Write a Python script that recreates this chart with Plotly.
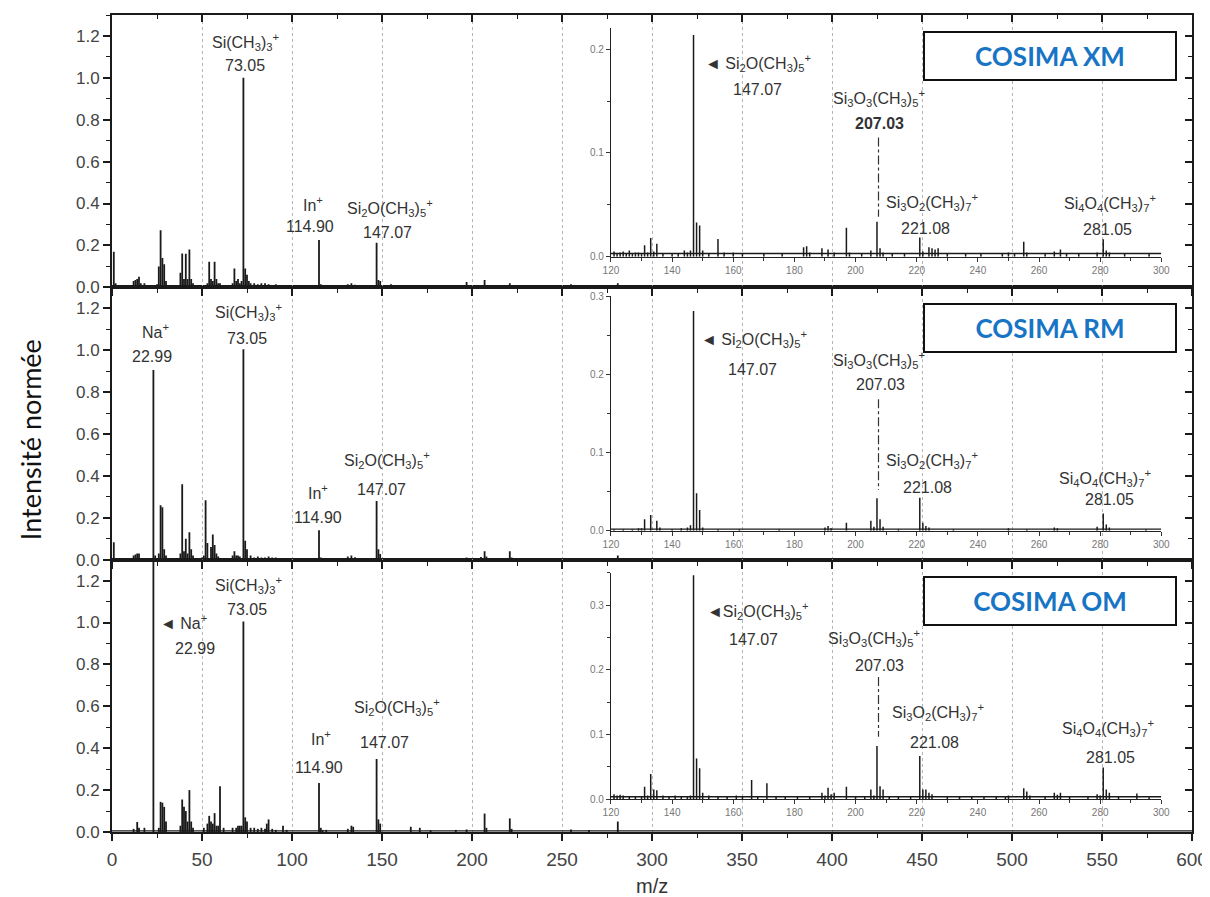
import plotly.graph_objects as go

# ------------------------------------------------------------------ data
# main spectra (m/z, normalised intensity)
mz_xm = [1, 2, 12, 13, 14, 15, 16, 18, 24, 25,
         26, 27, 28, 29, 30, 31, 38, 39, 40, 41,
         42, 43, 44, 45, 53, 54, 55, 56, 57, 58,
         59, 60, 61, 67, 68, 69, 70, 71, 72, 73,
         74, 75, 76, 77, 79, 81, 83, 85, 87, 89,
         91, 96, 99, 103, 115, 116, 117, 119, 131, 133,
         135, 147, 148, 149, 155, 163, 183, 191, 197, 207,
         208, 221, 225, 249, 255, 267, 281]
int_xm = [0.17, 0.02, 0.03, 0.035, 0.04, 0.05, 0.02, 0.02, 0.01, 0.015,
          0.10, 0.273, 0.14, 0.11, 0.03, 0.01, 0.07, 0.162, 0.04, 0.16,
          0.04, 0.181, 0.04, 0.02, 0.02, 0.122, 0.04, 0.03, 0.122, 0.04,
          0.02, 0.02, 0.01, 0.02, 0.09, 0.03, 0.04, 0.02, 0.03, 1.0,
          0.09, 0.06, 0.03, 0.02, 0.02, 0.015, 0.02, 0.02, 0.015, 0.01,
          0.015, 0.01, 0.01, 0.008, 0.226, 0.015, 0.01, 0.008, 0.015, 0.02,
          0.012, 0.213, 0.035, 0.03, 0.015, 0.008, 0.01, 0.008, 0.025, 0.035,
          0.01, 0.02, 0.01, 0.008, 0.015, 0.008, 0.02]

mz_rm = [1, 12, 13, 14, 15, 23, 24, 26, 27, 28,
         29, 30, 38, 39, 40, 41, 42, 43, 44, 45,
         50, 51, 52, 53, 55, 56, 57, 58, 59, 67,
         68, 69, 70, 71, 73, 74, 75, 77, 79, 81,
         83, 85, 87, 89, 91, 97, 115, 116, 117, 119,
         129, 131, 133, 135, 147, 148, 149, 191, 197, 205,
         207, 208, 221, 222, 281]
int_rm = [0.083, 0.02, 0.025, 0.03, 0.03, 0.905, 0.02, 0.03, 0.26, 0.25,
          0.05, 0.02, 0.03, 0.36, 0.04, 0.10, 0.03, 0.131, 0.05, 0.02,
          0.01, 0.02, 0.284, 0.08, 0.06, 0.12, 0.07, 0.03, 0.015, 0.02,
          0.04, 0.02, 0.02, 0.015, 1.005, 0.09, 0.05, 0.02, 0.01, 0.015,
          0.01, 0.01, 0.015, 0.01, 0.01, 0.008, 0.14, 0.01, 0.008, 0.006,
          0.006, 0.015, 0.02, 0.012, 0.28, 0.05, 0.027, 0.008, 0.01, 0.013,
          0.04, 0.015, 0.04, 0.01, 0.02]

mz_om = [12, 14, 15, 18, 23, 26, 27, 28, 29, 30,
         38, 39, 40, 41, 42, 43, 44, 45, 51, 53,
         54, 55, 56, 57, 58, 59, 60, 62, 67, 69,
         70, 71, 72, 73, 74, 75, 77, 79, 81, 83,
         85, 86, 87, 89, 91, 95, 97, 115, 116, 117,
         119, 131, 133, 134, 147, 148, 149, 166, 171, 177,
         191, 197, 207, 208, 221, 222, 255, 265, 281]
int_om = [0.015, 0.048, 0.02, 0.02, 1.5, 0.02, 0.144, 0.14, 0.12, 0.05,
          0.03, 0.155, 0.12, 0.10, 0.05, 0.20, 0.05, 0.02, 0.02, 0.04,
          0.077, 0.05, 0.04, 0.09, 0.03, 0.03, 0.219, 0.02, 0.02, 0.02,
          0.03, 0.03, 0.03, 1.005, 0.07, 0.05, 0.02, 0.02, 0.015, 0.02,
          0.015, 0.04, 0.06, 0.015, 0.01, 0.03, 0.01, 0.234, 0.02, 0.01,
          0.01, 0.015, 0.03, 0.025, 0.348, 0.06, 0.04, 0.025, 0.02, 0.008,
          0.01, 0.012, 0.088, 0.02, 0.065, 0.015, 0.012, 0.01, 0.05]

# inset spectra (m/z 120-300)
mz_xm_in = [121, 122, 123, 124, 125, 126, 127, 128, 129, 130,
            131, 132, 133, 134, 135, 137, 140, 142, 144, 145,
            146, 147, 148, 149, 150, 152, 155, 157, 160, 163,
            170, 176, 183, 184, 185, 189, 191, 193, 197, 198,
            202, 205, 207, 208, 209, 212, 216, 221, 222, 224,
            225, 226, 227, 230, 236, 241, 248, 250, 252, 255,
            256, 262, 265, 267, 269, 273, 279, 281, 282, 283,
            288, 296]
int_xm_in = [0.005, 0.003, 0.004, 0.005, 0.003, 0.006, 0.003, 0.004, 0.004, 0.003,
             0.011, 0.004, 0.018, 0.005, 0.0125, 0.003, 0.003, 0.003, 0.006, 0.004,
             0.006, 0.2137, 0.033, 0.030, 0.006, 0.003, 0.017, 0.004, 0.004, 0.003,
             0.003, 0.003, 0.009, 0.010, 0.004, 0.008, 0.007, 0.004, 0.028, 0.004,
             0.003, 0.006, 0.0336, 0.008, 0.004, 0.003, 0.003, 0.0186, 0.005, 0.009,
             0.008, 0.007, 0.008, 0.003, 0.003, 0.003, 0.003, 0.004, 0.003, 0.0144,
             0.004, 0.003, 0.005, 0.007, 0.003, 0.003, 0.004, 0.0167, 0.006, 0.004,
             0.003, 0.003]

mz_rm_in = [121, 124, 127, 129, 130, 131, 133, 135, 136, 140,
            143, 145, 146, 147, 148, 149, 150, 155, 162, 175,
            190, 191, 192, 197, 205, 206, 207, 208, 209, 214,
            221, 222, 223, 224, 232, 250, 256, 265, 266, 279,
            281, 282, 283, 295]
int_rm_in = [0.002, 0.002, 0.002, 0.003, 0.003, 0.0145, 0.020, 0.0128, 0.004, 0.002,
             0.003, 0.004, 0.007, 0.281, 0.048, 0.0265, 0.004, 0.002, 0.002, 0.002,
             0.004, 0.006, 0.003, 0.0102, 0.0128, 0.005, 0.0414, 0.0145, 0.005, 0.002,
             0.0422, 0.010, 0.006, 0.004, 0.002, 0.003, 0.002, 0.004, 0.003, 0.005,
             0.022, 0.008, 0.004, 0.002]

mz_om_in = [121, 122, 123, 124, 126, 128, 130, 131, 132, 133,
            134, 135, 137, 139, 141, 143, 145, 146, 147, 148,
            149, 150, 152, 155, 158, 161, 163, 166, 168, 171,
            174, 177, 181, 185, 189, 190, 191, 192, 193, 197,
            200, 203, 205, 206, 207, 208, 209, 211, 214, 218,
            221, 222, 223, 224, 225, 230, 234, 238, 242, 246,
            249, 250, 255, 256, 257, 262, 265, 266, 267, 270,
            276, 279, 280, 281, 282, 283, 286, 292, 296]
int_om_in = [0.008, 0.006, 0.007, 0.006, 0.005, 0.004, 0.005, 0.0195, 0.006, 0.039,
             0.015, 0.014, 0.006, 0.005, 0.006, 0.005, 0.004, 0.006, 0.346, 0.063,
             0.048, 0.010, 0.006, 0.005, 0.004, 0.006, 0.004, 0.0298, 0.004, 0.0247,
             0.004, 0.005, 0.004, 0.004, 0.010, 0.006, 0.018, 0.008, 0.010, 0.0195,
             0.004, 0.004, 0.015, 0.006, 0.0822, 0.020, 0.015, 0.005, 0.005, 0.004,
             0.0668, 0.015, 0.015, 0.010, 0.008, 0.004, 0.004, 0.004, 0.004, 0.004,
             0.005, 0.006, 0.017, 0.012, 0.006, 0.004, 0.010, 0.007, 0.010, 0.004,
             0.004, 0.008, 0.006, 0.049, 0.015, 0.010, 0.004, 0.009, 0.003]

main_baselines = [0.005, 0.005, 0.005]          # XM, RM, OM
inset_baselines = [0.003, 0.002, 0.004]         # XM, RM, OM
sample_names = ["COSIMA XM", "COSIMA RM", "COSIMA OM"]
inset_ymax = [0.22, 0.30, 0.35]
main_xticks = list(range(0, 601, 50))
main_yticks = [0, 0.2, 0.4, 0.6, 0.8, 1.0, 1.2]
inset_xticks = list(range(120, 301, 20))

# ------------------------------------------------------------------ helpers
FONT = "Liberation Sans, Arial, sans-serif"
INK = "#1a1a1a"


def stems(mz, inten):
    xs, ys = [], []
    for m, h in zip(mz, inten):
        xs += [m, m, None]
        ys += [0, h, None]
    return xs, ys


fig = go.Figure()

# main panels: (xaxis, yaxis) ids, top -> bottom
main_axes = [("x3", "y3"), ("x2", "y2"), ("x", "y")]
inset_axes = [("x4", "y4"), ("x5", "y5"), ("x6", "y6")]
right_axes = ["y7", "y8", "y9"]          # inward tick marks on the right border
main_data = [(mz_xm, int_xm), (mz_rm, int_rm), (mz_om, int_om)]
inset_data = [(mz_xm_in, int_xm_in), (mz_rm_in, int_rm_in), (mz_om_in, int_om_in)]

for i in range(3):
    xa, ya = main_axes[i]
    fig.add_trace(go.Scatter(x=[0, 600], y=[main_baselines[i]] * 2, mode="lines",
                             line=dict(color=INK, width=1.2), xaxis=xa, yaxis=ya,
                             showlegend=False, hoverinfo="skip"))
    sx, sy = stems(*main_data[i])
    fig.add_trace(go.Scatter(x=sx, y=sy, mode="lines", line=dict(color=INK, width=1.8),
                             xaxis=xa, yaxis=ya, showlegend=False))
    # empty helper trace so that the right-hand tick axis is drawn
    fig.add_trace(go.Scatter(x=[None], y=[None], mode="lines", xaxis=xa,
                             yaxis=right_axes[i], showlegend=False, hoverinfo="skip"))
    xa, ya = inset_axes[i]
    fig.add_trace(go.Scatter(x=[120, 300], y=[inset_baselines[i]] * 2, mode="lines",
                             line=dict(color=INK, width=1.4), xaxis=xa, yaxis=ya,
                             showlegend=False, hoverinfo="skip"))
    sx, sy = stems(*inset_data[i])
    fig.add_trace(go.Scatter(x=sx, y=sy, mode="lines", line=dict(color=INK, width=1.5),
                             xaxis=xa, yaxis=ya, showlegend=False))
# helper trace for the inward ticks of the top border
fig.add_trace(go.Scatter(x=[None], y=[None], mode="lines", xaxis="x7", yaxis="y3",
                         showlegend=False, hoverinfo="skip"))

# ------------------------------------------------------------------ axes
tickfont_main_y = dict(family=FONT, size=17, color="#444")
tickfont_main_x = dict(family=FONT, size=19, color="#444")
tickfont_inset = dict(family=FONT, size=10, color="#777")

domains_y = [[2 / 3, 1.0], [1 / 3, 2 / 3], [0.0, 1 / 3]]
inset_dom_y = [[0.7042, 0.9835], [0.3688, 0.6560], [0.0400, 0.3174]]
inset_dom_x = [0.462, 0.9716]

layout = dict(
    width=1202, height=889,
    margin=dict(l=104, r=18, t=7, b=65, autoexpand=False),
    paper_bgcolor="white", plot_bgcolor="rgba(0,0,0,0)",
    showlegend=False,
)

for i in range(3):
    xa, ya = main_axes[i]
    xkey = "xaxis" + xa[1:]
    ykey = "yaxis" + ya[1:]
    layout[xkey] = dict(
        domain=[0, 1], anchor=ya, range=[0, 600],
        tickvals=main_xticks, ticks="outside", ticklen=7, tickwidth=1.5, tickcolor=INK,
        minor=dict(dtick=25, tick0=0, ticks="outside", ticklen=4, tickwidth=1.2, tickcolor=INK),
        showline=True, linewidth=2, linecolor=INK, mirror=True,
        showgrid=True, gridcolor="#b5b5b5", griddash="dot", gridwidth=1,
        zeroline=False, showticklabels=(i == 2), tickfont=tickfont_main_x,
        ticklabelstandoff=2,
    )
    if i < 2:
        layout[xkey]["matches"] = "x"
    layout[ykey] = dict(
        domain=domains_y[i], anchor=xa, range=[0, 1.3],
        tickvals=main_yticks, tickformat=".1f",
        ticks="outside", ticklen=7, tickwidth=1.5, tickcolor=INK,
        minor=dict(dtick=0.1, tick0=0, ticks="outside", ticklen=4, tickwidth=1.2, tickcolor=INK),
        showline=True, linewidth=2, linecolor=INK, mirror=True,
        showgrid=False, zeroline=False, tickfont=tickfont_main_y,
    )
    layout["yaxis" + right_axes[i][1:]] = dict(
        overlaying=ya, side="right", anchor=xa, range=[0, 1.3],
        tickvals=main_yticks, ticks="inside", ticklen=7, tickwidth=1.5, tickcolor=INK,
        minor=dict(dtick=0.1, tick0=0, ticks="inside", ticklen=4, tickwidth=1.2, tickcolor=INK),
        showline=False, showgrid=False, zeroline=False, showticklabels=False,
    )
    xa, ya = inset_axes[i]
    xkey = "xaxis" + xa[1:]
    ykey = "yaxis" + ya[1:]
    layout[xkey] = dict(
        domain=inset_dom_x, anchor=ya, range=[120, 300],
        tickvals=inset_xticks, ticks="outside", ticklen=4, tickwidth=1, tickcolor="#333",
        minor=dict(dtick=10, tick0=120, ticks="outside", ticklen=3, tickcolor="#333"),
        showline=True, linewidth=1.3, linecolor="#222", showgrid=False, zeroline=False,
        tickfont=tickfont_inset,
    )
    layout[ykey] = dict(
        domain=inset_dom_y[i], anchor=xa, range=[0, inset_ymax[i]],
        dtick=0.1, tick0=0, tickformat=".1f", ticks="outside", ticklen=4, tickwidth=1,
        tickcolor="#333",
        minor=dict(dtick=0.05, tick0=0, ticks="outside", ticklen=3, tickcolor="#333"),
        showline=True, linewidth=1.3, linecolor="#222", showgrid=False, zeroline=False,
        tickfont=tickfont_inset,
    )

layout["xaxis7"] = dict(
    overlaying="x3", side="top", anchor="y3", range=[0, 600],
    tickvals=main_xticks, ticks="inside", ticklen=7, tickwidth=1.5, tickcolor=INK,
    minor=dict(dtick=25, tick0=0, ticks="inside", ticklen=4, tickwidth=1.2, tickcolor=INK),
    showline=False, showgrid=False, zeroline=False, showticklabels=False,
)

fig.update_layout(**layout)

# ------------------------------------------------------------------ labels
SI3 = "Si(CH<sub>3</sub>)<sub>3</sub><sup>+</sup>"
SI2O = "Si<sub>2</sub>O(CH<sub>3</sub>)<sub>5</sub><sup>+</sup>"
IN = "In<sup>+</sup>"
NA = "Na<sup>+</sup>"
S3O3 = "Si<sub>3</sub>O<sub>3</sub>(CH<sub>3</sub>)<sub>5</sub><sup>+</sup>"
S3O2 = "Si<sub>3</sub>O<sub>2</sub>(CH<sub>3</sub>)<sub>7</sub><sup>+</sup>"
S4O4 = "Si<sub>4</sub>O<sub>4</sub>(CH<sub>3</sub>)<sub>7</sub><sup>+</sup>"
ARROW = "\u25c4"

main_labels = [
    [(SI3, 74.1, 1.171, "center"), ("73.05", 74.1, 1.058, "center"),
     (IN, 111.8, 0.398, "center"), ("114.90", 110.2, 0.289, "center"),
     (SI2O, 154.6, 0.379, "center"), ("147.07", 152.8, 0.264, "center")],
    [(NA, 24.1, 1.093, "center"), ("22.99", 22.2, 0.970, "center"),
     (SI3, 75.9, 1.181, "center"), ("73.05", 75.0, 1.056, "center"),
     (IN, 114.6, 0.324, "center"), ("114.90", 114.6, 0.203, "center"),
     (SI2O, 152.8, 0.476, "center"), ("147.07", 149.6, 0.335, "center")],
    [(ARROW + " " + NA, 25.3, 1.003, "left"), ("22.99", 45.9, 0.878, "center"),
     (SI3, 75.9, 1.180, "center"), ("73.05", 75.0, 1.061, "center"),
     (IN, 116.3, 0.447, "center"), ("114.90", 114.8, 0.308, "center"),
     (SI2O, 158.3, 0.598, "center"), ("147.07", 151.4, 0.426, "center")],
]
inset_labels = [
    [(ARROW + " " + SI2O, 150.2, 0.187, "left"), ("147.07", 168.0, 0.1607, "center"),
     (S3O3, 207.5, 0.1526, "center"), ("<b>207.03</b>", 207.7, 0.1286, "center"),
     (S3O2, 225.0, 0.0528, "center"), ("221.08", 223.0, 0.0273, "center"),
     (S4O4, 283.1, 0.0513, "center"), ("281.05", 282.4, 0.0263, "center")],
    [(ARROW + " " + SI2O, 148.7, 0.245, "left"), ("147.07", 166.2, 0.2064, "center"),
     (S3O3, 207.5, 0.2183, "center"), ("207.03", 208.1, 0.1863, "center"),
     (S3O2, 225.0, 0.0904, "center"), ("221.08", 223.4, 0.0555, "center"),
     (S4O4, 281.7, 0.067, "center"), ("281.05", 282.9, 0.0393, "center")],
    [(ARROW + SI2O, 150.7, 0.291, "left"), ("147.07", 166.6, 0.247, "center"),
     (S3O3, 206.1, 0.2485, "center"), ("207.03", 207.7, 0.2073, "center"),
     (S3O2, 227.1, 0.135, "center"), ("221.08", 225.7, 0.0873, "center"),
     (S4O4, 282.4, 0.1096, "center"), ("281.05", 283.5, 0.0648, "center")],
]
dashdot_spans = [(0.115, 0.0384), (0.168, 0.052), (0.189, 0.0966)]

annotations = []
shapes = []
for i in range(3):
    xa, ya = main_axes[i]
    for text, x, y, anc in main_labels[i]:
        annotations.append(dict(text=text, x=x, y=y, xref=xa, yref=ya, showarrow=False,
                                xanchor=anc, yanchor="middle",
                                font=dict(family=FONT, size=16, color="#333")))
    annotations.append(dict(text="<b>" + sample_names[i] + "</b>", x=521.3, y=1.105,
                            xref=xa, yref=ya, showarrow=False, xanchor="center",
                            yanchor="middle", width=248, height=44, borderpad=1,
                            bordercolor="#111", borderwidth=2, bgcolor="white",
                            font=dict(family="Lato, Open Sans, sans-serif", size=26,
                                      color="#1874C4")))
    xa, ya = inset_axes[i]
    for text, x, y, anc in inset_labels[i]:
        annotations.append(dict(text=text, x=x, y=y, xref=xa, yref=ya, showarrow=False,
                                xanchor=anc, yanchor="middle",
                                font=dict(family=FONT, size=16, color="#333")))
    y0, y1 = dashdot_spans[i]
    shapes.append(dict(type="line", xref=xa, yref=ya, x0=207.5, x1=207.5, y0=y0, y1=y1,
                       line=dict(color="#333", width=1.2, dash="dashdot")))

annotations.append(dict(text="Intensité normée", x=-0.0756, y=0.48, xref="paper",
                        yref="paper", showarrow=False, textangle=-90,
                        xanchor="center", yanchor="middle",
                        font=dict(family="Lato, Open Sans, sans-serif", size=27,
                                  color="#111")))
annotations.append(dict(text="m/z", x=0.5, y=-0.066, xref="paper", yref="paper",
                        showarrow=False, xanchor="center", yanchor="middle",
                        font=dict(family=FONT, size=20, color="#333")))

fig.update_layout(annotations=annotations, shapes=shapes)
fig.write_html("out.html")
